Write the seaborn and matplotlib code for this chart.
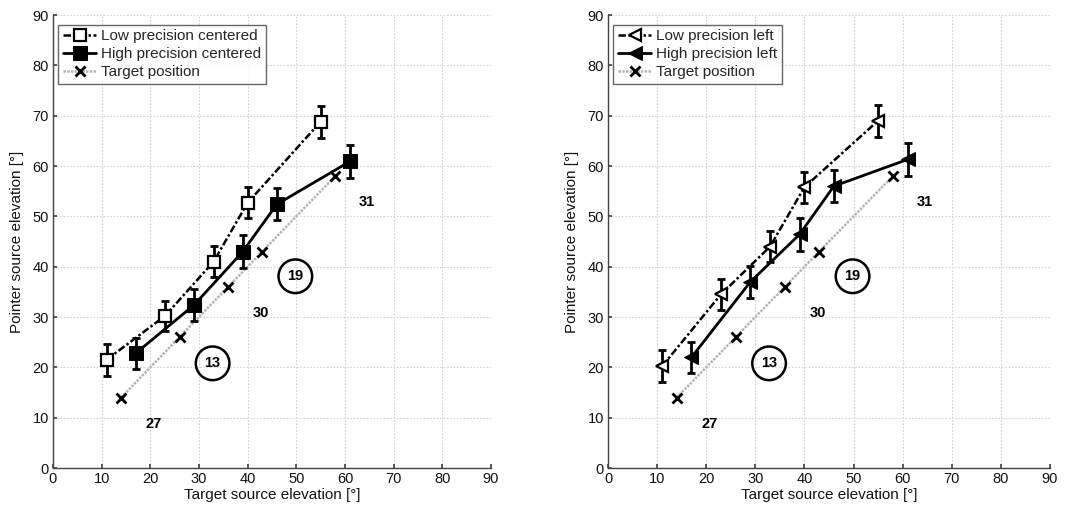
import numpy as np
import pandas as pd
import matplotlib
matplotlib.use("Agg")
import matplotlib.pyplot as plt
import seaborn as sns

# ---------------- data ----------------
low_x = [11, 23, 33, 40, 55]
high_x = [17, 29, 39, 46, 61]
target_x = [14, 26, 36, 43, 58]
target_y = [14, 26, 36, 43, 58]

low_center_y = [21.5, 30.2, 41.0, 52.7, 68.8]
low_center_err = [3.2, 3.0, 3.1, 3.1, 3.2]
high_center_y = [22.8, 32.4, 43.0, 52.4, 60.9]
high_center_err = [3.1, 3.2, 3.2, 3.2, 3.2]

low_left_y = [20.2, 34.5, 44.0, 55.8, 69.0]
low_left_err = [3.2, 3.1, 3.1, 3.1, 3.2]
high_left_y = [22.0, 37.0, 46.4, 56.0, 61.3]
high_left_err = [3.1, 3.2, 3.2, 3.2, 3.2]

ann_plain = [("27", 20.7, 8.8), ("30", 42.7, 30.8), ("31", 64.5, 52.9)]
ann_circled = [("13", 32.8, 20.8), ("19", 49.8, 38.1)]

ticks = list(range(0, 100, 10))

sns.set_theme(style="white")
plt.rcParams['font.family'] = ['Liberation Sans', 'DejaVu Sans']

fig = plt.figure(figsize=(10.75, 5.11), dpi=100)
axL = fig.add_axes([0.0493, 0.0841, 0.4074, 0.8865])
axR = fig.add_axes([0.5656, 0.0841, 0.4111, 0.8865])


def draw(ax, low_y, low_err, high_y, high_err, low_marker, high_marker, low_label, high_label):
    df_low = pd.DataFrame({"x": low_x, "y": low_y})
    df_high = pd.DataFrame({"x": high_x, "y": high_y})
    df_t = pd.DataFrame({"x": target_x, "y": target_y})

    sns.lineplot(data=df_t, x="x", y="y", ax=ax, color="#b4b4b4", linestyle=(0, (1, 0.5)),
                 linewidth=1.8, marker="x", markersize=7, markeredgecolor="black",
                 markeredgewidth=2, label="Target position", zorder=2, sort=False)
    ax.errorbar(low_x, low_y, yerr=low_err, fmt="none", ecolor="black", elinewidth=2,
                capsize=3, capthick=2, zorder=3)
    ax.errorbar(high_x, high_y, yerr=high_err, fmt="none", ecolor="black", elinewidth=2,
                capsize=3, capthick=2, zorder=3)
    sns.lineplot(data=df_low, x="x", y="y", ax=ax, color="black", linestyle=(0, (3, 1, 1, 1)),
                 linewidth=1.8, marker=low_marker, markersize=8, markerfacecolor="white",
                 markeredgecolor="black", markeredgewidth=1.6, label=low_label, zorder=4, sort=False)
    sns.lineplot(data=df_high, x="x", y="y", ax=ax, color="black", linestyle="-",
                 linewidth=2, marker=high_marker, markersize=10, markerfacecolor="black",
                 markeredgecolor="black", label=high_label, zorder=5, sort=False)

    for t, x, y in ann_plain:
        ax.text(x, y, t, fontsize=10.5, fontweight="bold", color="black", ha="center", va="center")
    for t, x, y in ann_circled:
        ax.text(x, y, t, fontsize=10.5, fontweight="bold", color="black", ha="center", va="center",
                bbox=dict(boxstyle="circle,pad=0.6", fc="none", ec="black", lw=1.8))

    ax.set_xlim(0, 90)
    ax.set_ylim(0, 90)
    ax.set_xticks(ticks)
    ax.set_yticks(ticks)
    ax.tick_params(axis="both", labelsize=10.5, labelcolor="#111111", direction="in",
                   length=3, color="#444444", pad=3, left=True, bottom=True)
    ax.grid(True, color="#d4d4d4", linestyle=(0, (1.5, 1.5)), linewidth=0.8)
    for s in ["top", "right"]:
        ax.spines[s].set_visible(False)
    for s in ["left", "bottom"]:
        ax.spines[s].set_color("#444444")
        ax.spines[s].set_linewidth(1.0)
    ax.set_xlabel("Target source elevation [°]", fontsize=11, labelpad=1, color="#111111")
    ax.set_ylabel("Pointer source elevation [°]", fontsize=11, labelpad=6, color="#111111")

    h, l = ax.get_legend_handles_labels()
    order = [l.index(low_label), l.index(high_label), l.index("Target position")]
    leg = ax.legend([h[i] for i in order], [l[i] for i in order], loc="upper left",
                    bbox_to_anchor=(0.005, 0.985), fontsize=11, frameon=True, fancybox=False,
                    edgecolor="#404040", handlelength=2.2, handletextpad=0.3,
                    borderpad=0.3, labelspacing=0.25, borderaxespad=0.2)
    leg.get_frame().set_linewidth(1.0)


draw(axL, low_center_y, low_center_err, high_center_y, high_center_err, "s", "s",
     "Low precision centered", "High precision centered")
draw(axR, low_left_y, low_left_err, high_left_y, high_left_err, "<", "<",
     "Low precision left", "High precision left")

fig.savefig("out.png", dpi=100)
